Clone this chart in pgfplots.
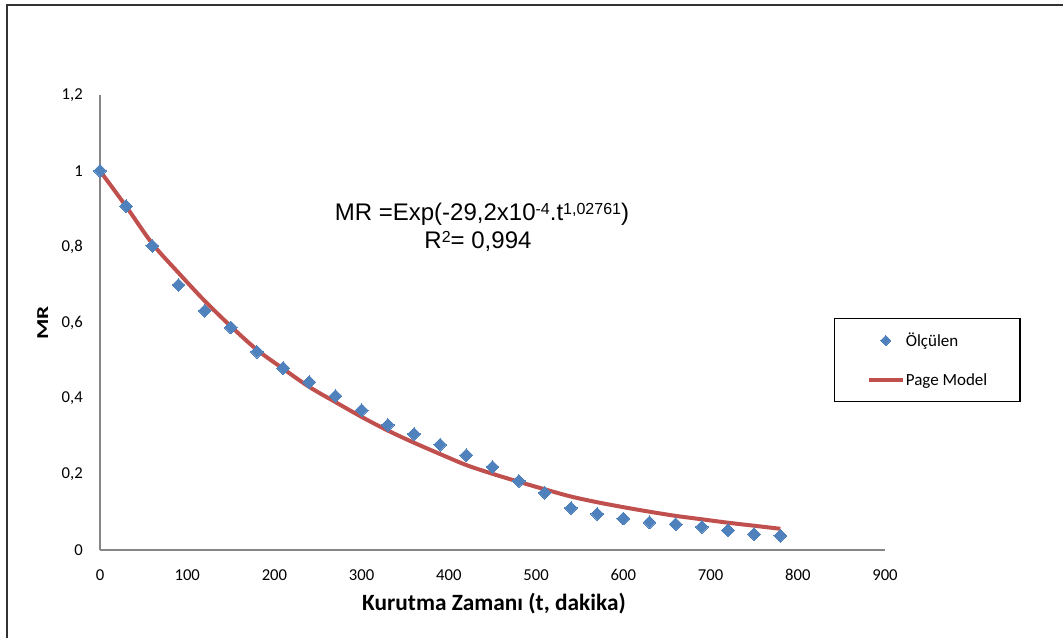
\documentclass[border=0pt]{standalone}
\usepackage{graphicx}
\usepackage{fontspec}
\setmainfont{Carlito}
\newfontfamily\arial{Liberation Sans}
\usepackage{pgfplots}
\pgfplotsset{compat=1.18}
\definecolor{mblue}{HTML}{4F81BD}
\definecolor{mred}{HTML}{C0504D}
\definecolor{agray}{HTML}{868686}
\pgfplotsset{
  markleg/.style={legend image code/.code={\draw[mark repeat=2,mark phase=2,##1, mark size=2.7pt] plot coordinates {(0pt,0pt) (13pt,0pt) (26pt,0pt)};}},
  lineleg/.style={legend image code/.code={\draw[##1] (0pt,0pt) -- (26pt,0pt);}}
}
\newcommand\sups[1]{\raisebox{4.6pt}{\fontsize{12}{12}\selectfont #1}}
\begin{document}
\begin{tikzpicture}
\useasboundingbox (-75pt,-65.25pt) rectangle (722.25pt,412.5pt);
\draw[line width=1.3pt, black!80] (-69.75pt,-80pt) -- (-69.75pt,408.75pt) -- (740pt,408.75pt);
\begin{axis}[
  at={(0pt,0pt)}, anchor=south west,
  scale only axis, width=588.75pt, height=341.25pt,
  xmin=0, xmax=900, ymin=0, ymax=1.2,
  axis lines=left,
  axis line style={agray, line width=1.1pt, -},
  major tick length=0pt,
  tick style={draw=none},
  xtick={0,100,200,300,400,500,600,700,800,900},
  xticklabels={0,100,200,300,400,500,600,700,800,900},
  ytick={0,0.2,0.4,0.6,0.8,1,1.2},
  yticklabels={0,{0,2},{0,4},{0,6},{0,8},1,{1,2}},
  xticklabel style={font=\fontsize{12.5}{15}\selectfont, anchor=base, inner sep=0pt, yshift=-22.5pt},
  yticklabel style={font=\fontsize{12.5}{15}\selectfont, anchor=east, inner sep=0pt, xshift=-12.75pt},
  xlabel={Kurutma Zamanı (t, dakika)},
  xlabel style={font=\bfseries\fontsize{17.5}{21}\selectfont, at={(axis description cs:0.5018,-0.132)}, anchor=base, inner sep=0pt},
  ylabel={\scalebox{1.4}[1]{MR}},
  ylabel style={font=\bfseries\fontsize{12.5}{15}\selectfont, at={(axis description cs:-0.0729,0.499)}, anchor=center, inner sep=0pt},
  clip=false,
  legend cell align=left,
  legend style={at={(axis description cs:0.935,0.51)}, anchor=north west,
    draw=black, line width=0.8pt, inner xsep=24pt, inner ysep=9.6pt,
    row sep=17pt,
    font=\fontsize{12.75}{15}\selectfont,
    nodes={inner xsep=0.5pt, inner ysep=1pt},
    /tikz/every even column/.append style={column sep=1.5pt}},
]
\addplot[mred, line width=3pt, smooth, forget plot] coordinates {
(0,1.000) (30,0.906) (60,0.808) (90,0.731) (120,0.657) (150,0.590)
(180,0.528) (210,0.478) (240,0.430) (270,0.390) (300,0.351) (330,0.315)
(360,0.283) (390,0.253) (420,0.224) (450,0.201) (480,0.180) (510,0.160)
(540,0.141) (570,0.126) (600,0.113) (630,0.101) (660,0.090) (690,0.081)
(720,0.072) (750,0.064) (780,0.056)
};
\addplot[only marks, mark=square*, mark size=3.4pt,
  mark options={rotate=45, fill=mblue, draw=mblue, line width=0pt},
  markleg
] coordinates {
(0,1.000) (30,0.907) (60,0.802) (90,0.699) (120,0.631) (150,0.587)
(180,0.523) (210,0.480) (240,0.443) (270,0.406) (300,0.369) (330,0.330)
(360,0.306) (390,0.278) (420,0.250) (450,0.219) (480,0.182) (510,0.151)
(540,0.111) (570,0.095) (600,0.083) (630,0.073) (660,0.068) (690,0.061)
(720,0.052) (750,0.042) (780,0.038)
};
\addlegendentry{Ölçülen}
\addlegendimage{mred, line width=3pt, lineleg}
\addlegendentry{Page Model}
\node[anchor=base, inner sep=0pt, font=\arial\fontsize{18}{20}\selectfont] at (axis description cs:0.4866,0.7237) {MR =Exp(-29,2x10\sups{-4}.t\sups{1,02761})};
\node[anchor=base, inner sep=0pt, font=\arial\fontsize{18}{20}\selectfont] at (axis description cs:0.4815,0.663) {R\sups{2}= 0,994};
\end{axis}
\end{tikzpicture}
\end{document}
